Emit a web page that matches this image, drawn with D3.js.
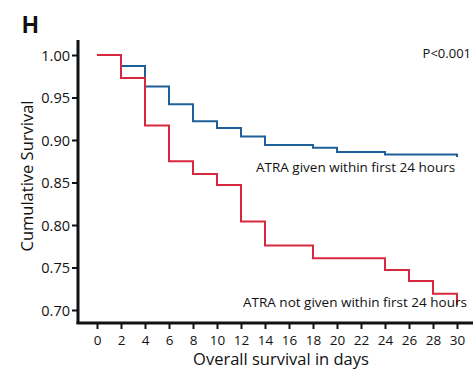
<!DOCTYPE html>
<html>
<head>
<meta charset="utf-8">
<script src="https://cdn.jsdelivr.net/npm/d3@7"></script>
<style>
  body { margin: 0; background: #fff; }
  text { font-family: "Open Sans", "Noto Sans", sans-serif; fill: #111; }
</style>
</head>
<body>
<svg id="chart" width="473" height="369"></svg>
<script>
// step points: [day, survival] - each value holds until the next day
const daysGiven = [0, 2, 4, 6, 8, 10, 12, 14, 18, 20, 24, 30];
const survGiven = [1.00, 0.987, 0.963, 0.942, 0.922, 0.914, 0.904, 0.894, 0.891, 0.886, 0.883, 0.880];
const daysNotGiven = [0, 2, 4, 6, 8, 10, 12, 14, 18, 24, 26, 28, 30];
const survNotGiven = [1.00, 0.973, 0.917, 0.875, 0.860, 0.847, 0.804, 0.776, 0.761, 0.747, 0.734, 0.719, 0.706];
const xTicks = d3.range(0, 31, 2);
const yTicks = [0.70, 0.75, 0.80, 0.85, 0.90, 0.95, 1.00];

const svg = d3.select('#chart');

// scales, picked so that 0 -> 97px, 30 -> 457px, 1.00 -> 55px, 0.70 -> 310px
const x = d3.scaleLinear().domain([0, 30]).range([97, 457]);
const y = d3.scaleLinear().domain([0.70, 1.00]).range([310, 55]);
const axisX = 78, axisY = 323;

// y axis
const yAxis = svg.append('g')
  .attr('transform', `translate(${axisX},0)`)
  .call(d3.axisLeft(y).tickValues(yTicks).tickFormat(d3.format('.2f')).tickSize(6).tickPadding(2));
yAxis.select('.domain').remove();
yAxis.selectAll('.tick line').attr('stroke', '#111').attr('stroke-width', 2);
yAxis.selectAll('.tick text').style('font-size', '14.5px').attr('dy', '0.35em');
svg.append('line')
  .attr('x1', axisX).attr('x2', axisX).attr('y1', 40).attr('y2', axisY + 1)
  .attr('stroke', '#111').attr('stroke-width', 3);

// x axis
const xAxis = svg.append('g')
  .attr('transform', `translate(0,${axisY})`)
  .call(d3.axisBottom(x).tickValues(xTicks).tickSize(6).tickPadding(6));
xAxis.select('.domain').remove();
xAxis.selectAll('.tick line').attr('stroke', '#111').attr('stroke-width', 2);
xAxis.selectAll('.tick text').style('font-size', '13.5px');
svg.append('line')
  .attr('x1', axisX - 1.5).attr('x2', 473).attr('y1', axisY).attr('y2', axisY)
  .attr('stroke', '#111').attr('stroke-width', 3);

// survival curves
const line = d3.line().curve(d3.curveStepAfter).x(d => x(d[0])).y(d => y(d[1]));
const given = daysGiven.map((d, i) => [d, survGiven[i]]);
const notGiven = daysNotGiven.map((d, i) => [d, survNotGiven[i]]);

svg.append('path').datum(given)
  .attr('d', line).attr('fill', 'none')
  .attr('stroke', '#1f5f98').attr('stroke-width', 2);
svg.append('path').datum(notGiven)
  .attr('d', line).attr('fill', 'none')
  .attr('stroke', '#d8283f').attr('stroke-width', 2);

// annotations
svg.append('text').attr('x', 22).attr('y', 33)
  .style('font-size', '23px').style('font-weight', 'bold').style('font-family', 'Arial, "Liberation Sans", sans-serif')
  .text('H');
svg.append('text').attr('x', 471).attr('y', 58).attr('text-anchor', 'end')
  .style('font-size', '13px').text('P<0.001');
svg.append('text').attr('x', 256).attr('y', 172).style('font-size', '13.5px')
  .text('ATRA given within first 24 hours');
svg.append('text').attr('x', 243).attr('y', 307).style('font-size', '13.5px')
  .text('ATRA not given within first 24 hours');

// axis titles
svg.append('text').attr('x', 281).attr('y', 365).attr('text-anchor', 'middle')
  .style('font-size', '16.5px').text('Overall survival in days');
svg.append('text').attr('transform', 'translate(33,176) rotate(-90)').attr('text-anchor', 'middle')
  .style('font-size', '16.5px').text('Cumulative Survival');
</script>
</body>
</html>
